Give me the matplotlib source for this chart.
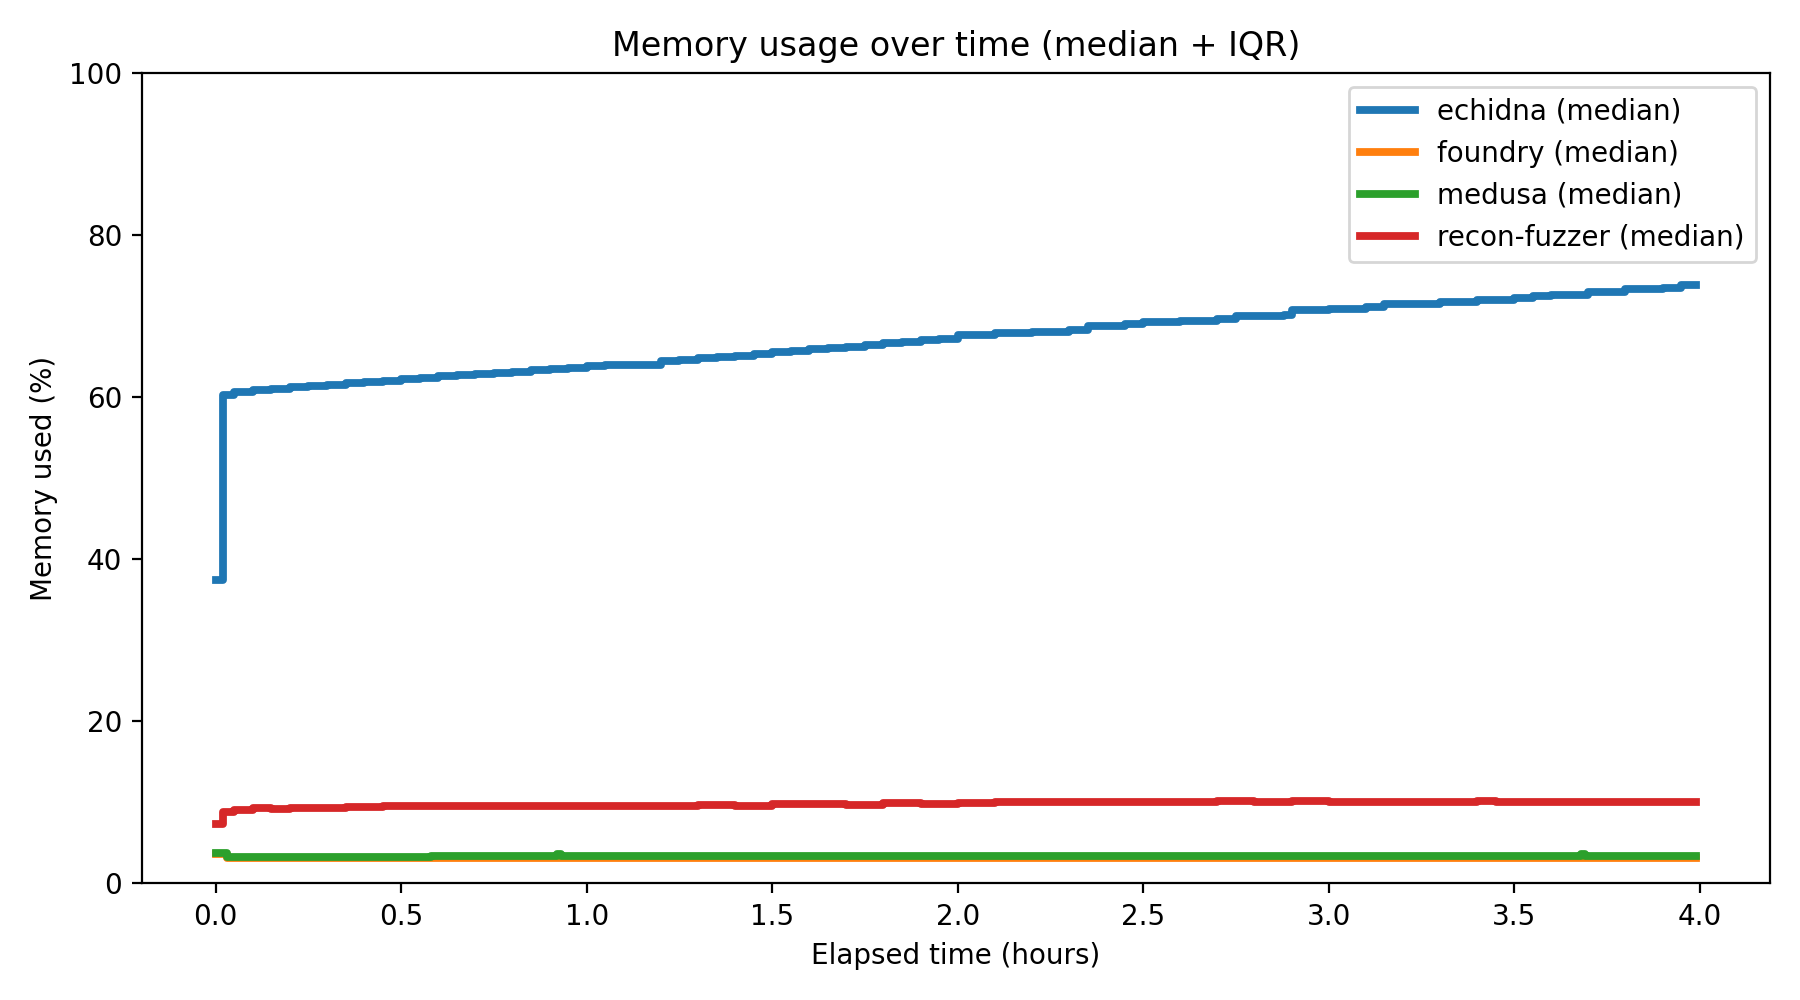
import matplotlib
matplotlib.use("Agg")
import matplotlib.pyplot as plt

# Median memory usage per fuzzer, step changes at these hours
echidna_t = [0.0, 0.02, 0.05, 0.1, 0.15, 0.2, 0.25, 0.3, 0.35, 0.4, 0.45, 0.5, 0.55,
             0.6, 0.65, 0.7, 0.75, 0.8, 0.85, 0.9, 0.95, 1.0, 1.05, 1.1, 1.2, 1.25,
             1.3, 1.35, 1.4, 1.45, 1.5, 1.55, 1.6, 1.65, 1.7, 1.75, 1.8, 1.85, 1.9,
             1.95, 2.0, 2.1, 2.2, 2.3, 2.35, 2.45, 2.5, 2.6, 2.7, 2.75, 2.88, 2.9,
             3.0, 3.1, 3.15, 3.3, 3.4, 3.5, 3.55, 3.6, 3.7, 3.8, 3.9, 3.95, 3.99]
echidna_med = [37.4, 60.2, 60.6, 60.8, 61.0, 61.2, 61.3, 61.5, 61.7, 61.9, 62.0, 62.2,
               62.4, 62.6, 62.7, 62.8, 63.0, 63.1, 63.3, 63.4, 63.6, 63.8, 63.9, 64.0,
               64.4, 64.5, 64.8, 64.9, 65.0, 65.3, 65.5, 65.7, 65.9, 66.0, 66.2, 66.4,
               66.6, 66.8, 67.0, 67.2, 67.6, 67.9, 68.0, 68.2, 68.7, 69.0, 69.2, 69.4,
               69.6, 70.0, 70.1, 70.7, 70.9, 71.1, 71.5, 71.7, 72.0, 72.2, 72.4, 72.6,
               73.0, 73.3, 73.5, 73.8, 73.8]

foundry_t = [0.0, 0.03, 0.92, 0.93, 3.68, 3.69, 3.99]
foundry_med = [3.6, 3.1, 3.1, 3.1, 3.1, 3.1, 3.1]

medusa_t = [0.0, 0.03, 0.58, 0.92, 0.93, 3.68, 3.69, 3.99]
medusa_med = [3.7, 3.3, 3.4, 3.6, 3.4, 3.6, 3.4, 3.4]

recon_t = [0.0, 0.02, 0.05, 0.1, 0.15, 0.2, 0.25, 0.35, 0.45, 0.5, 0.55, 0.6, 0.7,
           0.8, 0.9, 1.0, 1.2, 1.3, 1.4, 1.5, 1.6, 1.7, 1.8, 1.9, 2.0, 2.1, 2.3, 2.5,
           2.7, 2.8, 2.9, 3.0, 3.4, 3.45, 3.6, 3.7, 3.8, 3.9, 3.99]
recon_med = [7.3, 8.8, 9.1, 9.3, 9.2, 9.3, 9.3, 9.4, 9.6, 9.5, 9.6, 9.5, 9.5, 9.6, 9.5,
             9.6, 9.6, 9.7, 9.6, 9.8, 9.8, 9.7, 9.9, 9.8, 9.9, 10.0, 10.0, 10.1, 10.2,
             10.1, 10.2, 10.1, 10.2, 10.0, 10.1, 10.1, 10.0, 10.1, 10.1]

fig, ax = plt.subplots(figsize=(9, 5), dpi=200)

ax.step(echidna_t, echidna_med, where="post", lw=2.8, color="tab:blue", label="echidna (median)")
ax.step(foundry_t, foundry_med, where="post", lw=2.8, color="tab:orange", label="foundry (median)")
ax.step(medusa_t, medusa_med, where="post", lw=2.8, color="tab:green", label="medusa (median)")
ax.step(recon_t, recon_med, where="post", lw=2.8, color="tab:red", label="recon-fuzzer (median)")

ax.set_ylim(0, 100)
ax.set_title("Memory usage over time (median + IQR)")
ax.set_xlabel("Elapsed time (hours)")
ax.set_ylabel("Memory used (%)")
ax.legend(loc="upper right")

fig.tight_layout()
fig.savefig("out.png", dpi=200)
